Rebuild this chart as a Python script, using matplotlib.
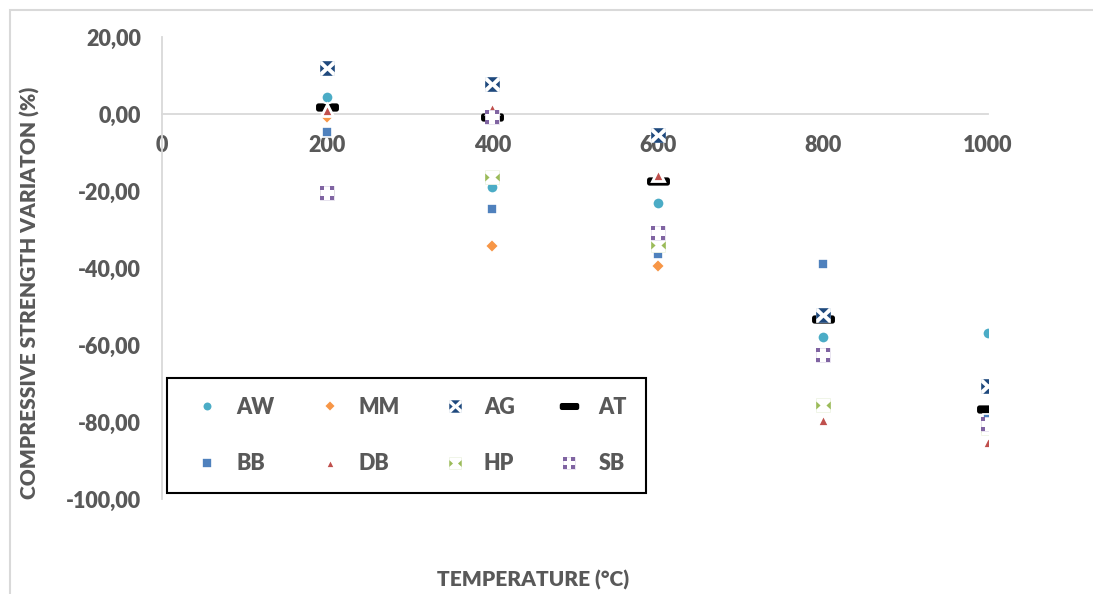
import numpy as np
import matplotlib
matplotlib.use("Agg")
import matplotlib.pyplot as plt
from matplotlib import font_manager
from matplotlib.path import Path
from matplotlib.patches import Rectangle
from matplotlib.ticker import MultipleLocator, FuncFormatter

# ---- data: compressive strength variation (%) vs temperature (°C) ----
temperature = [200, 400, 600, 800, 1000]
aw = [4.5, -19.0, -23.0, -57.8, -56.8]
mm = [-0.9, -34.2, -39.4, -75.6, -81.0]
ag = [11.9, 7.8, -5.5, -52.2, -70.6]
at = [1.9, -0.9, -17.4, -53.2, -76.6]
bb = [-4.6, -24.8, -36.4, -39.0, -79.2]
db = [1.0, 1.6, -15.8, -79.5, -85.1]
hp = [-20.6, -16.3, -34.0, -75.6, -81.6]
sb = [-20.6, -0.9, -31.0, -62.6, -80.4]

x_ticks = [0, 200, 400, 600, 800, 1000]
x_title = "TEMPERATURE (°C)"
y_title = "COMPRESSIVE STRENGTH VARIATON (%)"

# pick the first humanist sans that actually ships a bold face
bold_families = {f.name for f in font_manager.fontManager.ttflist
                 if (f.weight if isinstance(f.weight, int) else 700 if "bold" in str(f.weight) else 400) >= 600}
FAMILY = next((f for f in ["Lato", "Open Sans", "Noto Sans", "Roboto", "Liberation Sans"]
               if f in bold_families), "DejaVu Sans")
WEIGHT = "heavy"

plt.rcParams["font.family"] = [FAMILY, "DejaVu Sans"]
plt.rcParams["font.weight"] = WEIGHT
TEXT = "#595959"
AXIS = "#D9D9D9"


def compound(*polys):
    paths = [Path(np.array(list(p) + [p[0]]), closed=True) for p in polys]
    return Path.make_compound_path(*paths)


# hourglass-style "x" marker: four inward-pointing triangles
ag_marker = compound(
    [(-0.72, 1), (0.72, 1), (0, 0.3)],
    [(-0.72, -1), (0.72, -1), (0, -0.3)],
    [(-1, -0.5), (-1, 0.5), (-0.45, 0)],
    [(1, -0.5), (1, 0.5), (0.45, 0)],
)
# left/right inward triangles
hp_marker = compound(
    [(-1, -0.55), (-1, 0.55), (-0.4, 0)],
    [(1, -0.55), (1, 0.55), (0.4, 0)],
)
# four corner squares
s = 0.62
sb_marker = compound(
    [(-1, -1), (-1 + s, -1), (-1 + s, -1 + s), (-1, -1 + s)],
    [(1 - s, -1), (1, -1), (1, -1 + s), (1 - s, -1 + s)],
    [(-1, 1 - s), (-1 + s, 1 - s), (-1 + s, 1), (-1, 1)],
    [(1 - s, 1 - s), (1, 1 - s), (1, 1), (1 - s, 1)],
)
# rounded horizontal dash
hw, hh, r = 1.0, 0.36, 0.22
corners = [(hw - r, hh - r, 0), (-hw + r, hh - r, 90), (-hw + r, -hh + r, 180), (hw - r, -hh + r, 270)]
dash_pts = []
for cx, cy, a0 in corners:
    for a in np.linspace(a0, a0 + 90, 6):
        dash_pts.append((cx + r * np.cos(np.radians(a)), cy + r * np.sin(np.radians(a))))
at_marker = compound(dash_pts)

fig = plt.figure(figsize=(10.93, 5.94), dpi=100)
ax = fig.add_axes([0.1482, 0.1599, 0.7557, 0.7778])

handles = {}


def plain(name, y, marker, color, ms, z, mew=1.5):
    (h,) = ax.plot(temperature, y, linestyle="none", marker=marker, markersize=ms,
                   markerfacecolor=color, markeredgecolor="white", markeredgewidth=mew,
                   zorder=z, label=name)
    handles[name] = h


def boxed(name, y, marker, color, frame, ms, z):
    (under,) = ax.plot(temperature, y, linestyle="none", marker="s", markersize=ms,
                       markerfacecolor="white", markeredgecolor=frame, markeredgewidth=0.6,
                       zorder=z)
    (over,) = ax.plot(temperature, y, linestyle="none", marker=marker, markersize=ms,
                      markerfacecolor=color, markeredgewidth=0, zorder=z + 0.05)
    handles[name] = (under, over)


plain("AT", at, at_marker, "black", 16.5, 3.0, mew=0)
plain("AW", aw, "o", "#4BACC6", 8.5, 3.1)
plain("MM", mm, "D", "#F79646", 7.5, 3.2)
boxed("AG", ag, ag_marker, "#1F497D", "#E6ECF3", 10.5, 3.3)
plain("BB", bb, "s", "#4F81BD", 7.8, 3.4, mew=1.2)
plain("DB", db, "^", "#C0504D", 8.2, 3.5, mew=2.0)
boxed("HP", hp, hp_marker, "#9BBB59", "#EEF4E4", 10.5, 3.6)
boxed("SB", sb, sb_marker, "#8064A2", "#E5DFEE", 10.5, 3.7)

ax.set_xlim(0, 1000)
ax.set_ylim(-100, 20)
ax.set_xticks(x_ticks)
ax.yaxis.set_major_locator(MultipleLocator(20))
ax.yaxis.set_major_formatter(FuncFormatter(lambda v, _: f"{v:.2f}".replace(".", ",")))

for side in ("top", "right"):
    ax.spines[side].set_visible(False)
ax.spines["bottom"].set_position(("data", 0))
for side in ("bottom", "left"):
    ax.spines[side].set_color(AXIS)
    ax.spines[side].set_linewidth(1.3)
ax.tick_params(axis="both", length=0, labelsize=15.5, labelcolor=TEXT)
ax.tick_params(axis="x", pad=15)
ax.tick_params(axis="y", pad=15)

fig.text(533 / 1093, 1 - 580 / 594, x_title, ha="center", va="center",
         fontsize=15, color=TEXT)
fig.text(30 / 1093, 1 - 293 / 594, y_title, ha="center", va="center",
         rotation=90, fontsize=15, color=TEXT)

order = ["AW", "BB", "MM", "DB", "AG", "HP", "AT", "SB"]
leg = fig.legend([handles[k] for k in order], order, ncol=4,
                 loc="upper left", bbox_to_anchor=(167 / 1093, 1 - 378 / 594),
                 borderaxespad=0,
                 prop={"family": [FAMILY, "DejaVu Sans"], "weight": WEIGHT, "size": 15.5},
                 labelcolor=TEXT, frameon=True, fancybox=False, framealpha=1,
                 borderpad=0.88, labelspacing=1.65, handlelength=2.0,
                 handletextpad=0.35, columnspacing=1.55, markerscale=0.85)
leg.get_frame().set_edgecolor("black")
leg.get_frame().set_linewidth(1.5)

# chart-area border
fig.patches.append(Rectangle((10 / 1093, -0.2), 1.2, 1.2 - 10 / 594,
                             transform=fig.transFigure, fill=False,
                             edgecolor=AXIS, linewidth=1.5))

fig.savefig("out.png", dpi=100)
